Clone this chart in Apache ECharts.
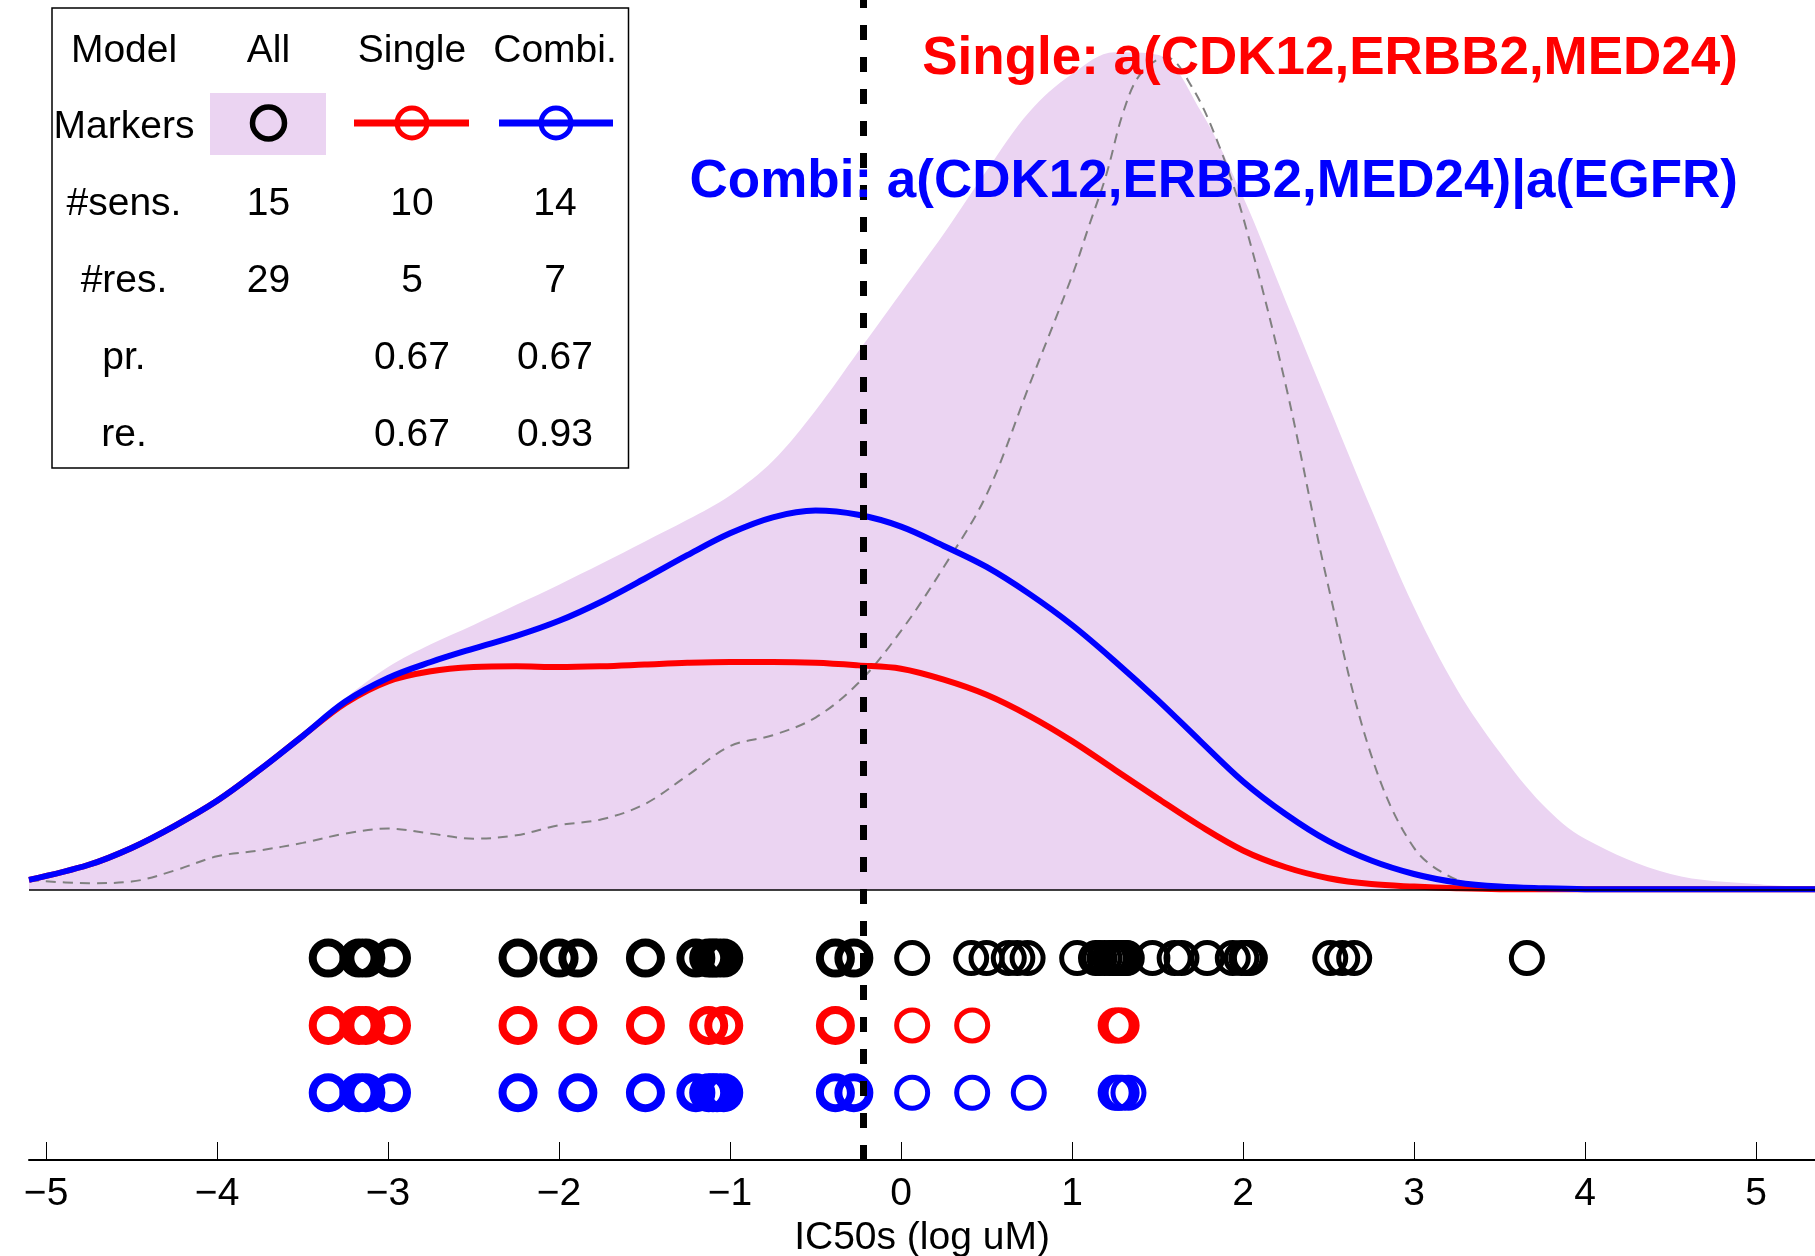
<!DOCTYPE html>
<html>
<head>
<meta charset="UTF-8" />
<script src="https://cdn.jsdelivr.net/npm/echarts@6/dist/echarts.min.js"></script>
<title>IC50 densities</title>
</head>
<body style="margin:0">
<div id="chart" style="width:1815px;height:1256px"></div>
<script>
  // density curves (x in log uM)
  const densX = [-5.1, -4.75, -4.5, -4.25, -4, -3.75, -3.5, -3.25, -3, -2.75, -2.5, -2.25, -2, -1.75, -1.5, -1.25, -1, -0.75, -0.5, -0.25,
    0, 0.25, 0.5, 0.75, 1, 1.25, 1.5, 1.75, 2, 2.25, 2.5, 2.75, 3, 3.25, 3.5, 3.75, 4, 4.5, 5, 5.35];
  const allDens = [0.014, 0.03, 0.048, 0.075, 0.106, 0.145, 0.186, 0.228, 0.265, 0.292, 0.315, 0.339, 0.363, 0.388, 0.414, 0.44, 0.469, 0.51, 0.57, 0.64,
    0.71, 0.78, 0.855, 0.925, 0.97, 0.996, 0.993, 0.927, 0.824, 0.7, 0.576, 0.453, 0.336, 0.239, 0.164, 0.102, 0.061, 0.019, 0.007, 0.003];
  const combiDens = [0.012, 0.03, 0.05, 0.076, 0.106, 0.143, 0.183, 0.224, 0.252, 0.271, 0.287, 0.302, 0.32, 0.343, 0.37, 0.398, 0.424, 0.443, 0.451, 0.446,
    0.432, 0.409, 0.384, 0.352, 0.315, 0.272, 0.226, 0.177, 0.129, 0.09, 0.058, 0.035, 0.019, 0.009, 0.004, 0.002, 0.001, 0.001, 0.001, 0.001];
  const singleDens = [0.012, 0.03, 0.05, 0.076, 0.106, 0.143, 0.183, 0.222, 0.248, 0.26, 0.265, 0.266, 0.265, 0.266, 0.268, 0.27, 0.271, 0.271, 0.27, 0.267,
    0.263, 0.25, 0.232, 0.207, 0.177, 0.143, 0.109, 0.076, 0.047, 0.027, 0.014, 0.007, 0.004, 0.002, 0.001, 0.001, 0.001, 0.001, 0.001, 0.001];
  const grayX = [-5.1, -4.75, -4.5, -4.25, -4, -3.75, -3.5, -3.25, -3, -2.75, -2.5, -2.25, -2, -1.75, -1.5, -1.25, -1, -0.75, -0.5, -0.25,
    0, 0.25, 0.5, 0.75, 1, 1.1, 1.2, 1.3, 1.4, 1.55, 1.7, 1.85, 2, 2.25, 2.5, 2.75, 3, 3.25, 3.5];
  const grayDens = [0.012, 0.008, 0.01, 0.023, 0.04, 0.047, 0.056, 0.067, 0.073, 0.067, 0.061, 0.065, 0.077, 0.084, 0.102, 0.136, 0.171, 0.184, 0.205, 0.246,
    0.308, 0.384, 0.47, 0.6, 0.73, 0.79, 0.85, 0.925, 0.97, 0.99, 0.955, 0.89, 0.8, 0.6, 0.36, 0.16, 0.05, 0.012, 0.003];

  // cell line IC50s per model row
  const allPts = [-3.35, -3.17, -3.13, -2.98, -2.24, -2.0, -1.89, -1.495, -1.2, -1.125, -1.1, -1.076, -1.037, -0.384, -0.276,
    0.065, 0.41, 0.5, 0.63, 0.68, 0.74, 1.03, 1.14, 1.16, 1.19, 1.22, 1.24, 1.26, 1.27, 1.29, 1.31, 1.32, 1.47, 1.6, 1.64, 1.79, 1.94, 1.99, 2.02, 2.04,
    2.51, 2.58, 2.65, 3.66];
  const singlePts = [-3.35, -3.17, -3.13, -2.98, -2.24, -1.89, -1.495, -1.125, -1.037, -0.384, 0.065, 0.416, 1.255, 1.27, 1.29];
  const combiPts = [-3.35, -3.17, -3.13, -2.98, -2.24, -1.89, -1.495, -1.2, -1.125, -1.1, -1.076, -1.037, -0.384, -0.276,
    0.065, 0.416, 0.747, 1.255, 1.27, 1.29, 1.33];
  const threshold = -0.22;
  const xTicks = [-5, -4, -3, -2, -1, 0, 1, 2, 3, 4, 5];

  // legend table
  const tableHead = ['Model', 'All', 'Single', 'Combi.'];
  const tableRows = [
    ['#sens.', '15', '10', '14'],
    ['#res.', '29', '5', '7'],
    ['pr.', '', '0.67', '0.67'],
    ['re.', '', '0.67', '0.93']
  ];
  const singleTitle = 'Single: a(CDK12,ERBB2,MED24)';
  const combiTitle = 'Combi: a(CDK12,ERBB2,MED24)|a(EGFR)';

  const font = 'Liberation Sans, Arial, Helvetica, sans-serif';
  const purple = '#ebd4f2';
  const rowY = { all: -0.081, single: -0.161, combi: -0.241 };

  const chart = echarts.init(document.getElementById('chart'), null, { renderer: 'canvas' });

  const pairs = (xs, ys) => xs.map((x, i) => [x, ys[i]]);
  const markerData = (pts, y) => pts.map(x => ({
    value: [x, y],
    itemStyle: { borderWidth: x < threshold ? 8 : 5 }
  }));
  const markerSeries = (pts, y, color) => ({
    type: 'scatter',
    data: markerData(pts, y),
    symbol: 'circle',
    symbolSize: 31,
    itemStyle: { color: 'rgba(0,0,0,0)', borderColor: color, opacity: 1 },
    z: 3,
    silent: true
  });

  // table graphics
  const colX = [124, 268.5, 412, 555];
  const rowYs = [51, 127, 204, 281, 358, 435];
  const txt = (s, x, y, extra) => ({
    type: 'text', x: x, y: y, z: 100,
    style: Object.assign({ text: s, fill: '#000', fontSize: 39, fontFamily: font, align: 'center', verticalAlign: 'middle' }, extra || {})
  });
  const graphic = [
    { type: 'rect', shape: { x: 52, y: 8, width: 576.5, height: 460 }, style: { fill: '#fff', stroke: '#000', lineWidth: 1.5 }, z: 90 },
    { type: 'rect', shape: { x: 210, y: 93, width: 116, height: 62 }, style: { fill: purple }, z: 95 },
    { type: 'circle', shape: { cx: 268.5, cy: 123, r: 16 }, style: { fill: 'none', stroke: '#000', lineWidth: 5.5 }, z: 96 },
    { type: 'line', shape: { x1: 354, y1: 123, x2: 469, y2: 123 }, style: { stroke: '#ff0000', lineWidth: 7 }, z: 96 },
    { type: 'circle', shape: { cx: 412, cy: 123, r: 15 }, style: { fill: 'none', stroke: '#ff0000', lineWidth: 5 }, z: 97 },
    { type: 'line', shape: { x1: 499, y1: 123, x2: 613, y2: 123 }, style: { stroke: '#0000ff', lineWidth: 7 }, z: 96 },
    { type: 'circle', shape: { cx: 556, cy: 123, r: 15 }, style: { fill: 'none', stroke: '#0000ff', lineWidth: 5 }, z: 97 },
    txt('Markers', 124, rowYs[1]),
    txt(singleTitle, 1738, 59, { align: 'right', fill: '#ff0000', fontWeight: 'bold', fontSize: 53 }),
    txt(combiTitle, 1738, 182, { align: 'right', fill: '#0000ff', fontWeight: 'bold', fontSize: 53 })
  ];
  tableHead.forEach((h, i) => graphic.push(txt(h, colX[i], rowYs[0])));
  tableRows.forEach((row, r) => row.forEach((c, i) => {
    if (c) graphic.push(txt(c, colX[i], rowYs[r + 2]));
  }));

  const option = {
    animation: false,
    backgroundColor: '#fff',
    grid: { left: 29, right: 0, top: 0, bottom: 96, containLabel: false, outerBoundsMode: 'none' },
    xAxis: {
      type: 'value',
      min: -5.1,
      max: 5.345,
      axisLine: { onZero: false, lineStyle: { color: '#000', width: 2 } },
      axisTick: { show: true, inside: true, length: 18, customValues: xTicks, lineStyle: { color: '#000', width: 1 } },
      axisLabel: {
        customValues: xTicks,
        formatter: v => String(v).replace('-', '\u2212'),
        fontSize: 39, color: '#000', margin: 15, fontFamily: font
      },
      splitLine: { show: false },
      name: 'IC50s (log uM)',
      nameLocation: 'middle',
      nameGap: 54,
      nameTextStyle: { fontSize: 39, color: '#000', fontFamily: font }
    },
    yAxis: { type: 'value', min: -0.321, max: 1.058, show: false, splitLine: { show: false } },
    series: [
      {
        type: 'line',
        data: pairs(densX, allDens),
        smooth: 0.35,
        showSymbol: false,
        lineStyle: { width: 0 },
        areaStyle: { color: purple, opacity: 1 },
        z: 1,
        silent: true,
        markLine: {
          silent: true, symbol: ['none', 'none'], label: { show: false },
          lineStyle: { color: '#000', width: 1.5, type: 'solid' },
          data: [{ yAxis: 0 }]
        }
      },
      {
        type: 'line',
        data: pairs(grayX, grayDens),
        smooth: 0.35,
        showSymbol: false,
        lineStyle: { color: '#808080', width: 2, type: [10, 7] },
        z: 2,
        silent: true
      },
      {
        type: 'line',
        data: pairs(densX, singleDens),
        smooth: 0.35,
        showSymbol: false,
        lineStyle: { color: '#ff0000', width: 6 },
        z: 3,
        silent: true
      },
      {
        type: 'line',
        data: pairs(densX, combiDens),
        smooth: 0.35,
        showSymbol: false,
        lineStyle: { color: '#0000ff', width: 6 },
        z: 4,
        silent: true,
        markLine: {
          silent: true, symbol: ['none', 'none'], label: { show: false },
          lineStyle: { color: '#000', width: 7, type: [15, 17] },
          data: [{ xAxis: threshold }]
        }
      },
      markerSeries(allPts, rowY.all, '#000'),
      markerSeries(singlePts, rowY.single, '#ff0000'),
      markerSeries(combiPts, rowY.combi, '#0000ff')
    ],
    graphic: graphic
  };
  chart.setOption(option);
</script>
</body>
</html>
